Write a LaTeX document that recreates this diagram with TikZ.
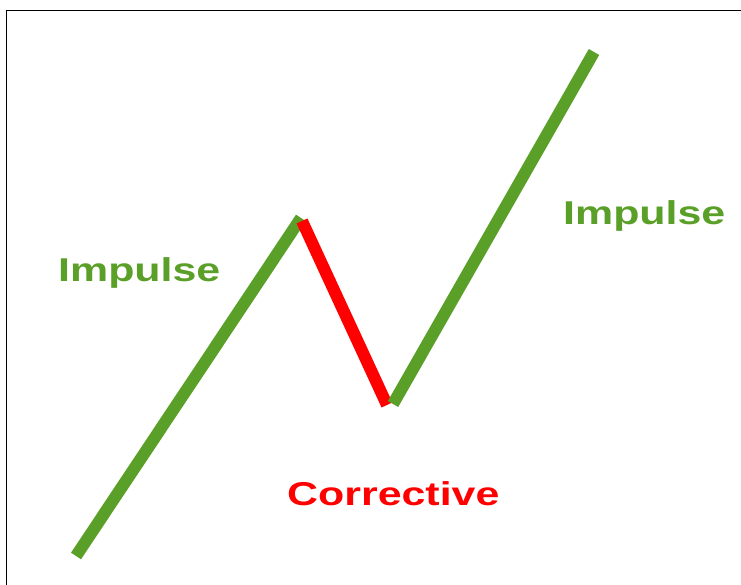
\documentclass[tikz,border=0pt]{standalone}
\usepackage{fontspec}
\setmainfont{Liberation Sans}
\definecolor{wgreen}{RGB}{90,160,40}
\definecolor{wred}{RGB}{255,0,0}
\begin{document}
\begin{tikzpicture}[x=1pt,y=1pt,
  leg/.style={line width=12pt,line cap=butt},
  lbl/.style={font=\bfseries\fontsize{33}{33}\selectfont,inner sep=0pt,anchor=base west}]
\fill[white] (0,0) rectangle (741,585);
\useasboundingbox (0,0) rectangle (741,585);
\draw[line width=1.8pt] (6.5,0) -- (6.5,574.5) -- (741,574.5);
\coordinate (a) at (76,29);
\coordinate (b) at (301,367);
\coordinate (b2) at (302,364);
\coordinate (c) at (387,180);
\coordinate (c2) at (393,181);
\coordinate (d) at (594,533);
\draw[leg,wgreen] (a) -- (b);
\draw[leg,wred] (b2) -- (c);
\draw[leg,wgreen] (c2) -- (d);
\node[lbl,text=wgreen] (imp1) at (58,303) {\scalebox{1.30}[1]{Impulse}};
\node[lbl,text=wgreen] (imp2) at (563,360) {\scalebox{1.30}[1]{Impulse}};
\node[lbl,text=wred] (corr) at (287,79) {\scalebox{1.30}[1]{Corrective}};
\end{tikzpicture}
\end{document}
